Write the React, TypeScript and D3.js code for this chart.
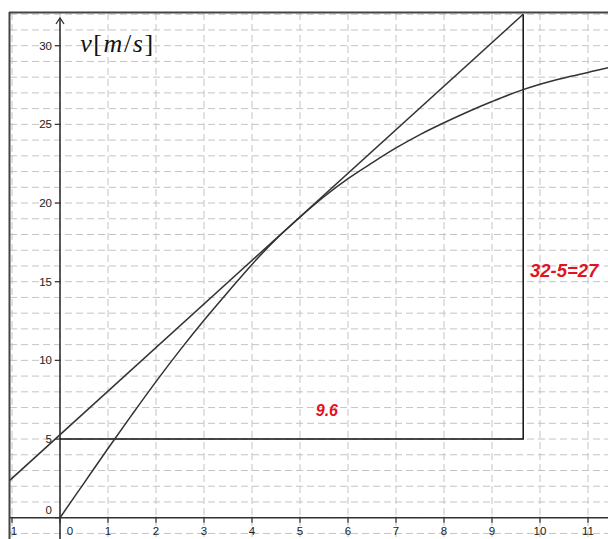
import React from "react";
import * as d3 from "d3";

const W = 608;
const H = 539;

const xTicks = [-1, 0, 1, 2, 3, 4, 5, 6, 7, 8, 9, 10, 11];
const yTicks = [0, 5, 10, 15, 20, 25, 30];
const xGrid = [-1, 0, 1, 2, 3, 4, 5, 6, 7, 8, 9, 10, 11, 12];
const yGrid = [-2, -1, 0, 1, 2, 3, 4, 5, 6, 7, 8, 9, 10, 11, 12, 13, 14, 15, 16, 17, 18, 19, 20, 21, 22, 23, 24, 25, 26, 27, 28, 29, 30, 31, 32, 33];

// velocity curve v(t)
const curveT = [0, 0.5, 1, 1.5, 2, 2.5, 3, 3.5, 4, 4.5, 5, 5.5, 6, 6.5, 7, 7.5, 8, 8.5, 9, 9.5, 10, 10.5, 11, 11.5, 12];
const curveV = [0, 2.2, 4.4, 6.55, 8.65, 10.65, 12.55, 14.35, 16.1, 17.7, 19.1, 20.4, 21.55, 22.55, 23.5, 24.35, 25.1, 25.8, 26.45, 27.05, 27.55, 27.95, 28.3, 28.65, 28.95];

// tangent line endpoints
const tangentT = [-1.2, 9.65];
const tangentV = [1.95, 32];

// slope triangle
const triT = [0, 9.65, 9.65];
const triV = [5, 5, 32];

const runLabel = "9.6";
const riseLabel = "32-5=27";

export default function App() {
  const x = d3.scaleLinear().domain([0, 10]).range([60, 540]);
  const y = d3.scaleLinear().domain([0, 30]).range([517.7, 45.7]);

  const left = 10;
  const top = 13;

  const line = d3
    .line<[number, number]>()
    .x((d) => x(d[0]))
    .y((d) => y(d[1]));
  const smooth = d3
    .line<[number, number]>()
    .x((d) => x(d[0]))
    .y((d) => y(d[1]))
    .curve(d3.curveCatmullRom.alpha(0.5));

  const curvePts = curveT.map((t, i) => [t, curveV[i]] as [number, number]);
  const tanPts = tangentT.map((t, i) => [t, tangentV[i]] as [number, number]);
  const triPts = triT.map((t, i) => [t, triV[i]] as [number, number]);

  const x0 = x(0);
  const y0 = y(0);

  return (
    <svg
      width={W}
      height={H}
      style={{ position: "fixed", left: 0, top: 0, background: "#fff" }}
    >
      <defs>
        <clipPath id="plot">
          <rect x={left} y={top} width={W - left} height={H - top} />
        </clipPath>
      </defs>
      <g clipPath="url(#plot)">
        <rect x={left} y={top} width={W - left} height={H - top} fill="#fff" />
        {xGrid.map((t) => (
          <line
            key={"gx" + t}
            x1={x(t)}
            x2={x(t)}
            y1={top}
            y2={H}
            stroke="#c4c4c4"
            strokeWidth={1}
            strokeDasharray="7,4"
          />
        ))}
        {yGrid.map((v) => (
          <line
            key={"gy" + v}
            x1={left}
            x2={W}
            y1={y(v)}
            y2={y(v)}
            stroke="#c4c4c4"
            strokeWidth={1}
            strokeDasharray="7,4"
          />
        ))}
        {/* axes */}
        <line x1={left} x2={W} y1={y0} y2={y0} stroke="#333" strokeWidth={1.6} />
        <line x1={x0} x2={x0} y1={18} y2={H} stroke="#333" strokeWidth={1.6} />
        <path
          d={`M${x0 - 4},${24} L${x0},${18} L${x0 + 4},${24}`}
          fill="none"
          stroke="#333"
          strokeWidth={1.3}
        />
        {xTicks.map((t) => (
          <line
            key={"tx" + t}
            x1={x(t)}
            x2={x(t)}
            y1={y0 - 1}
            y2={y0 + 5}
            stroke="#333"
            strokeWidth={1.2}
          />
        ))}
        {yTicks.map((v) => (
          <line
            key={"ty" + v}
            x1={x0 - 5}
            x2={x0 + 1}
            y1={y(v)}
            y2={y(v)}
            stroke="#333"
            strokeWidth={1.2}
          />
        ))}
        {xTicks.map((t) => (
          <text
            key={"lx" + t}
            x={t === 0 ? x(t) + 10 : x(t)}
            y={y0 + 17}
            textAnchor="middle"
            fontFamily="Liberation Sans, Arial, sans-serif"
            fontSize={11.5}
            fill="#222"
          >
            {t < 0 ? "-" + Math.abs(t) : String(t)}
          </text>
        ))}
        {yTicks.map((v) => (
          <text
            key={"ly" + v}
            x={x0 - 8}
            y={v === 0 ? y(v) - 4 : y(v) + 4}
            textAnchor="end"
            fontFamily="Liberation Sans, Arial, sans-serif"
            fontSize={11.5}
            fill="#222"
          >
            {String(v)}
          </text>
        ))}
        {/* slope triangle */}
        <path d={line(triPts) || ""} fill="none" stroke="#111" strokeWidth={1.5} />
        {/* tangent line */}
        <path d={line(tanPts) || ""} fill="none" stroke="#333" strokeWidth={1.5} />
        {/* velocity curve */}
        <path d={smooth(curvePts) || ""} fill="none" stroke="#333" strokeWidth={1.5} />
        {/* labels */}
        <text
          x={x(0.42)}
          y={y(29.6)}
          fontFamily="'Liberation Serif', 'Times New Roman', serif"
          fontSize={26}
          letterSpacing={1.6}
          fill="#111"
        >
          <tspan fontStyle="italic">v</tspan>
          <tspan>[</tspan>
          <tspan fontStyle="italic">m</tspan>
          <tspan>/</tspan>
          <tspan fontStyle="italic">s</tspan>
          <tspan>]</tspan>
        </text>
        <text
          x={x(5.56)}
          y={y(6.48)}
          textAnchor="middle"
          fontFamily="Liberation Sans, Arial, sans-serif"
          fontWeight="bold"
          fontStyle="italic"
          fontSize={16}
          fill="#e0141e"
        >
          {runLabel}
        </text>
        <text
          x={x(9.79)}
          y={y(15.28)}
          fontFamily="Liberation Sans, Arial, sans-serif"
          fontWeight="bold"
          fontStyle="italic"
          fontSize={18.5}
          fill="#e0141e"
        >
          {riseLabel}
        </text>
      </g>
      {/* border */}
      <line x1={left - 0.5} x2={left - 0.5} y1={top - 1} y2={H} stroke="#444" strokeWidth={2} />
      <line x1={left - 1} x2={W} y1={top - 0.5} y2={top - 0.5} stroke="#444" strokeWidth={2} />
    </svg>
  );
}
